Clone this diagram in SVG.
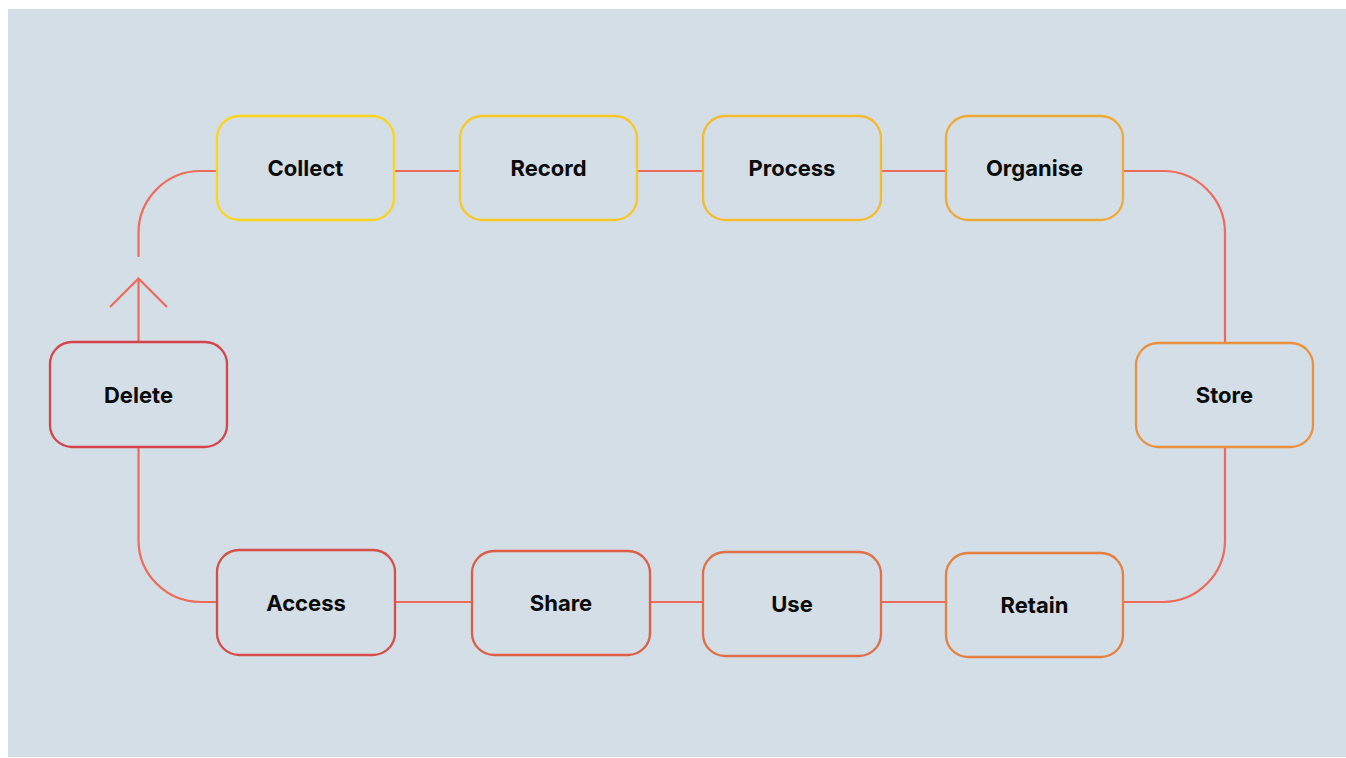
<svg xmlns="http://www.w3.org/2000/svg" width="1346" height="758" viewBox="0 0 1346 758">
  <style>
    .box { fill: #D4DEE6; stroke-width: 2.3; }
    .lbl { font-family: Inter, "Liberation Sans", sans-serif; font-weight: 700; font-size: 22px; fill: #0A0A0A; text-anchor: middle; }
    .wire { fill: none; stroke: #EE6A5A; stroke-width: 2.2; }
  </style>
  <rect x="0" y="0" width="1346" height="758" fill="#FFFFFF"/>
  <rect x="8" y="9" width="1338" height="748" fill="#D4DEE6"/>

  <!-- connectors -->
  <g id="connectors">
    <!-- top row -->
    <path class="wire" d="M138.5 257 V233 A62 62 0 0 1 200.5 171 H217"/>
    <path class="wire" d="M394 171 H460"/>
    <path class="wire" d="M637 171 H703"/>
    <path class="wire" d="M881 171 H946"/>
    <path class="wire" d="M1123 171 H1163 A62 62 0 0 1 1225 233 V343"/>
    <!-- right to bottom -->
    <path class="wire" d="M1225 447 V540 A62 62 0 0 1 1163 602 H1123"/>
    <path class="wire" d="M946 602 H881"/>
    <path class="wire" d="M703 602 H650"/>
    <path class="wire" d="M472 602 H395"/>
    <path class="wire" d="M217 602 H200.5 A62 62 0 0 1 138.5 540 V447"/>
    <!-- return arrow above Delete -->
    <path class="wire" d="M138.5 342 V279"/>
    <path class="wire" d="M110 307 L138.5 278.5 L167 307"/>
  </g>

  <g id="node-collect">
    <rect class="box" x="217" y="116" width="177" height="104" rx="22" stroke="#FDD41C"/>
    <text class="lbl" x="305.5" y="176">Collect</text>
  </g>
  <g id="node-record">
    <rect class="box" x="460" y="116" width="177" height="104" rx="22" stroke="#F9C825"/>
    <text class="lbl" x="548.5" y="176">Record</text>
  </g>
  <g id="node-process">
    <rect class="box" x="703" y="116" width="178" height="104" rx="22" stroke="#F5BA2E"/>
    <text class="lbl" x="792" y="176">Process</text>
  </g>
  <g id="node-organise">
    <rect class="box" x="946" y="116" width="177" height="104" rx="22" stroke="#EFAA35"/>
    <text class="lbl" x="1034.5" y="176">Organise</text>
  </g>
  <g id="node-store">
    <rect class="box" x="1136" y="343" width="177" height="104" rx="22" stroke="#EA9140"/>
    <text class="lbl" x="1224.5" y="403">Store</text>
  </g>
  <g id="node-retain">
    <rect class="box" x="946" y="553" width="177" height="104" rx="22" stroke="#E5803E"/>
    <text class="lbl" x="1034.5" y="612.5">Retain</text>
  </g>
  <g id="node-use">
    <rect class="box" x="703" y="552" width="178" height="104" rx="22" stroke="#E06F45"/>
    <text class="lbl" x="792" y="611.5">Use</text>
  </g>
  <g id="node-share">
    <rect class="box" x="472" y="551" width="178" height="104" rx="22" stroke="#DC5E45"/>
    <text class="lbl" x="561" y="611">Share</text>
  </g>
  <g id="node-access">
    <rect class="box" x="217" y="550" width="178" height="105" rx="22" stroke="#D54E47"/>
    <text class="lbl" x="306" y="610.5">Access</text>
  </g>
  <g id="node-delete">
    <rect class="box" x="50" y="342" width="177" height="105" rx="22" stroke="#D4444A"/>
    <text class="lbl" x="138.5" y="402.5">Delete</text>
  </g>
</svg>
